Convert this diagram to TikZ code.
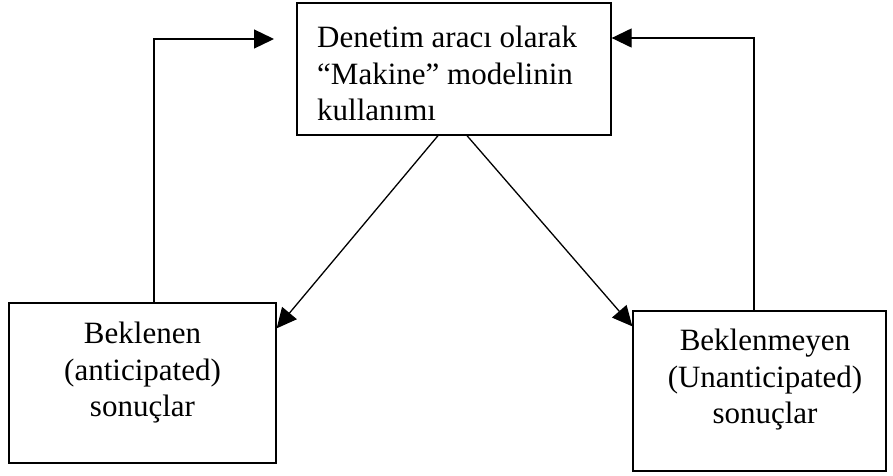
\documentclass[tikz,border=0pt]{standalone}
\usepackage{fontspec}
\setmainfont{Liberation Serif}
\usetikzlibrary{arrows.meta}
\begin{document}
\begin{tikzpicture}[x=1pt,y=-1pt,
  box/.style={draw=black,line width=1.3pt,fill=white,inner sep=0pt},
  txt/.style={inner sep=0pt,font=\fontsize{31}{36.5}\selectfont},
  conn/.style={line width=1.3pt,-{Triangle[length=20pt,width=19pt]}}]
\useasboundingbox (0,0) rectangle (893,475);
\fill[white] (0,0) rectangle (893,475);
% boxes
\node[box,minimum width=314pt,minimum height=132pt] (T) at (454,69) {};
\node[box,minimum width=267pt,minimum height=160pt] (L) at (142.5,383) {};
\node[box,minimum width=253pt,minimum height=160pt] (R) at (759.5,391) {};
% texts
\node[txt,anchor=north west,align=left] (Tt) at (317,26) {Denetim aracı olarak\\“Makine” modelinin\\kullanımı};
\node[txt,anchor=north,align=center] (Lt) at (142.5,322) {Beklenen\\(anticipated)\\sonuçlar};
\node[txt,anchor=north,align=center] (Rt) at (765,329) {Beklenmeyen\\(Unanticipated)\\sonuçlar};
% feedback arrows
\coordinate (a1) at (274,39);
\draw[conn] ([xshift=11.5pt]L.north) |- (a1);
\draw[conn] ([xshift=-5.5pt]R.north) |- ([yshift=31pt]T.east);
% diagonal arrows
\draw[conn] ([xshift=-16pt]T.south) -- ([yshift=-26pt]L.north east);
\draw[conn] ([xshift=13pt]T.south) -- ([yshift=-16pt]R.north west);
\end{tikzpicture}
\end{document}
